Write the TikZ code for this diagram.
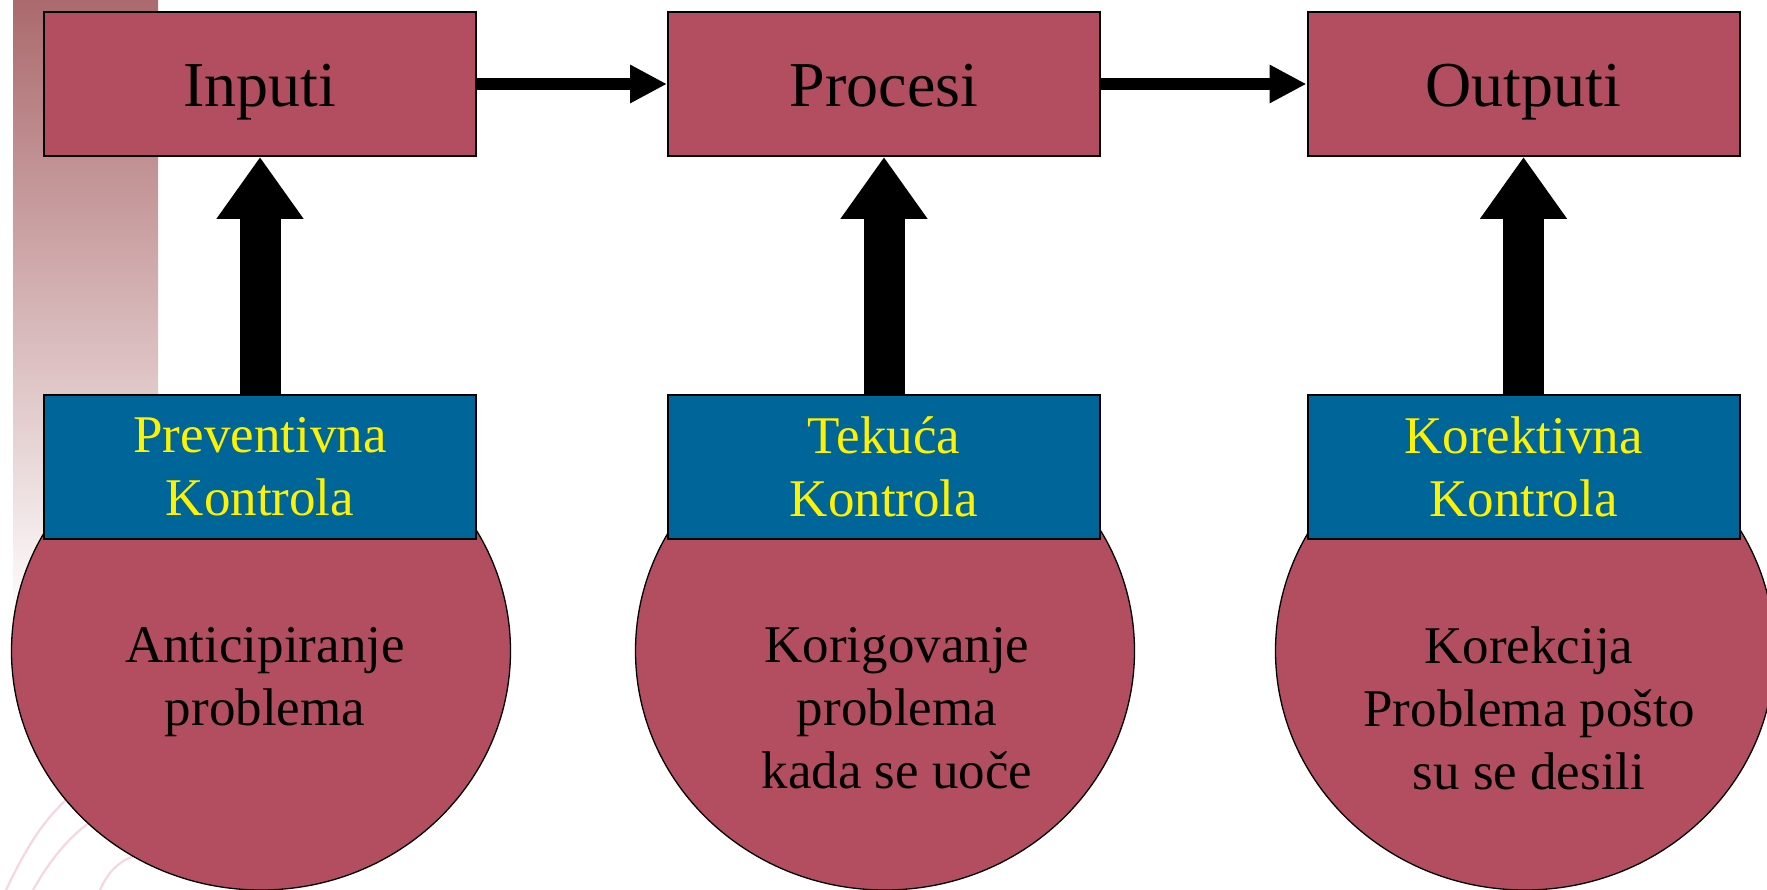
\documentclass[tikz,border=0pt]{standalone}
\usepackage{fontspec}
\setmainfont{Liberation Serif}
\usetikzlibrary{arrows.meta,shapes.geometric}

\definecolor{bordo}{HTML}{B34E60}
\definecolor{plava}{HTML}{006699}
\definecolor{traka}{HTML}{AB6A6D}
\definecolor{roza}{HTML}{F7D6E1}

\tikzset{
    kutija/.style={draw=black, line width=2pt, fill=bordo, minimum width=432pt, minimum height=144pt,
        inner sep=0pt, font=\fontsize{64}{77}\selectfont, text height=46pt, text depth=0pt},
    kontrola/.style={draw=black, line width=2pt, fill=plava, minimum width=432pt, minimum height=143pt,
        inner sep=0pt, text=yellow, align=center, font=\fontsize{53}{63}\selectfont},
    krug/.style={draw=black, line width=1.3pt, fill=bordo, ellipse, inner sep=0pt,
        minimum width=499pt, minimum height=478pt},
    opis/.style={anchor=north, align=center, inner sep=0pt, font=\fontsize{53}{63}\selectfont},
    strelica/.style={line width=12pt, -{Triangle[length=37pt,width=36pt]}},
    debela/.style={line width=41pt, -{Triangle[length=62pt,width=83pt]}},
}

\begin{document}
\begin{tikzpicture}[x=1pt, y=-1pt]
    \useasboundingbox (0,0) rectangle (1767,890);
    \clip (0,0) rectangle (1767,890);
    % pozadina:
    \shade[top color=traka, bottom color=white] (13,0) rectangle (158,620);
    \draw[roza, line width=2.2pt] (6,890) .. controls (25,850) and (42,822) .. (66,800);
    \draw[roza, line width=2.2pt] (33,890) .. controls (50,860) and (68,838) .. (90,822);
    \draw[roza, line width=2.2pt] (100,890) .. controls (108,872) and (118,862) .. (134,856);

    % krugovi:
    \node[krug] (k1) at (261,651) {};
    \node[krug] (k2) at (885,651) {};
    \node[krug] (k3) at (1525,651) {};

    % gornji pravougaonici:
    \node[kutija] (inputi) at (260,84) {Inputi};
    \node[kutija] (procesi) at (884,84) {Procesi};
    \node[kutija] (outputi) at (1523.5,84) {Outputi};

    % kontrole:
    \node[kontrola] (preventivna) at (260,467) {Preventivna\\Kontrola};
    \node[kontrola] (tekuca) at (884,467) {Tekuća\\Kontrola};
    \node[kontrola] (korektivna) at (1523.5,467) {Korektivna\\Kontrola};

    % tekst u krugovima:
    \node[opis] (t1) at (265,627) {Anticipiranje\\problema};
    \node[opis] (t2) at (897,627) {Korigovanje\\problema\\kada se uoče};
    \node[opis] (t3) at (1529,627) {Korekcija\\Problema pošto\\su se desili};

    % strelice:
    \draw[strelica] (inputi) -- (procesi);
    \draw[strelica] (procesi) -- (outputi);
    \draw[debela] (preventivna) -- (inputi);
    \draw[debela] (tekuca) -- (procesi);
    \draw[debela] (korektivna) -- (outputi);
\end{tikzpicture}
\end{document}
